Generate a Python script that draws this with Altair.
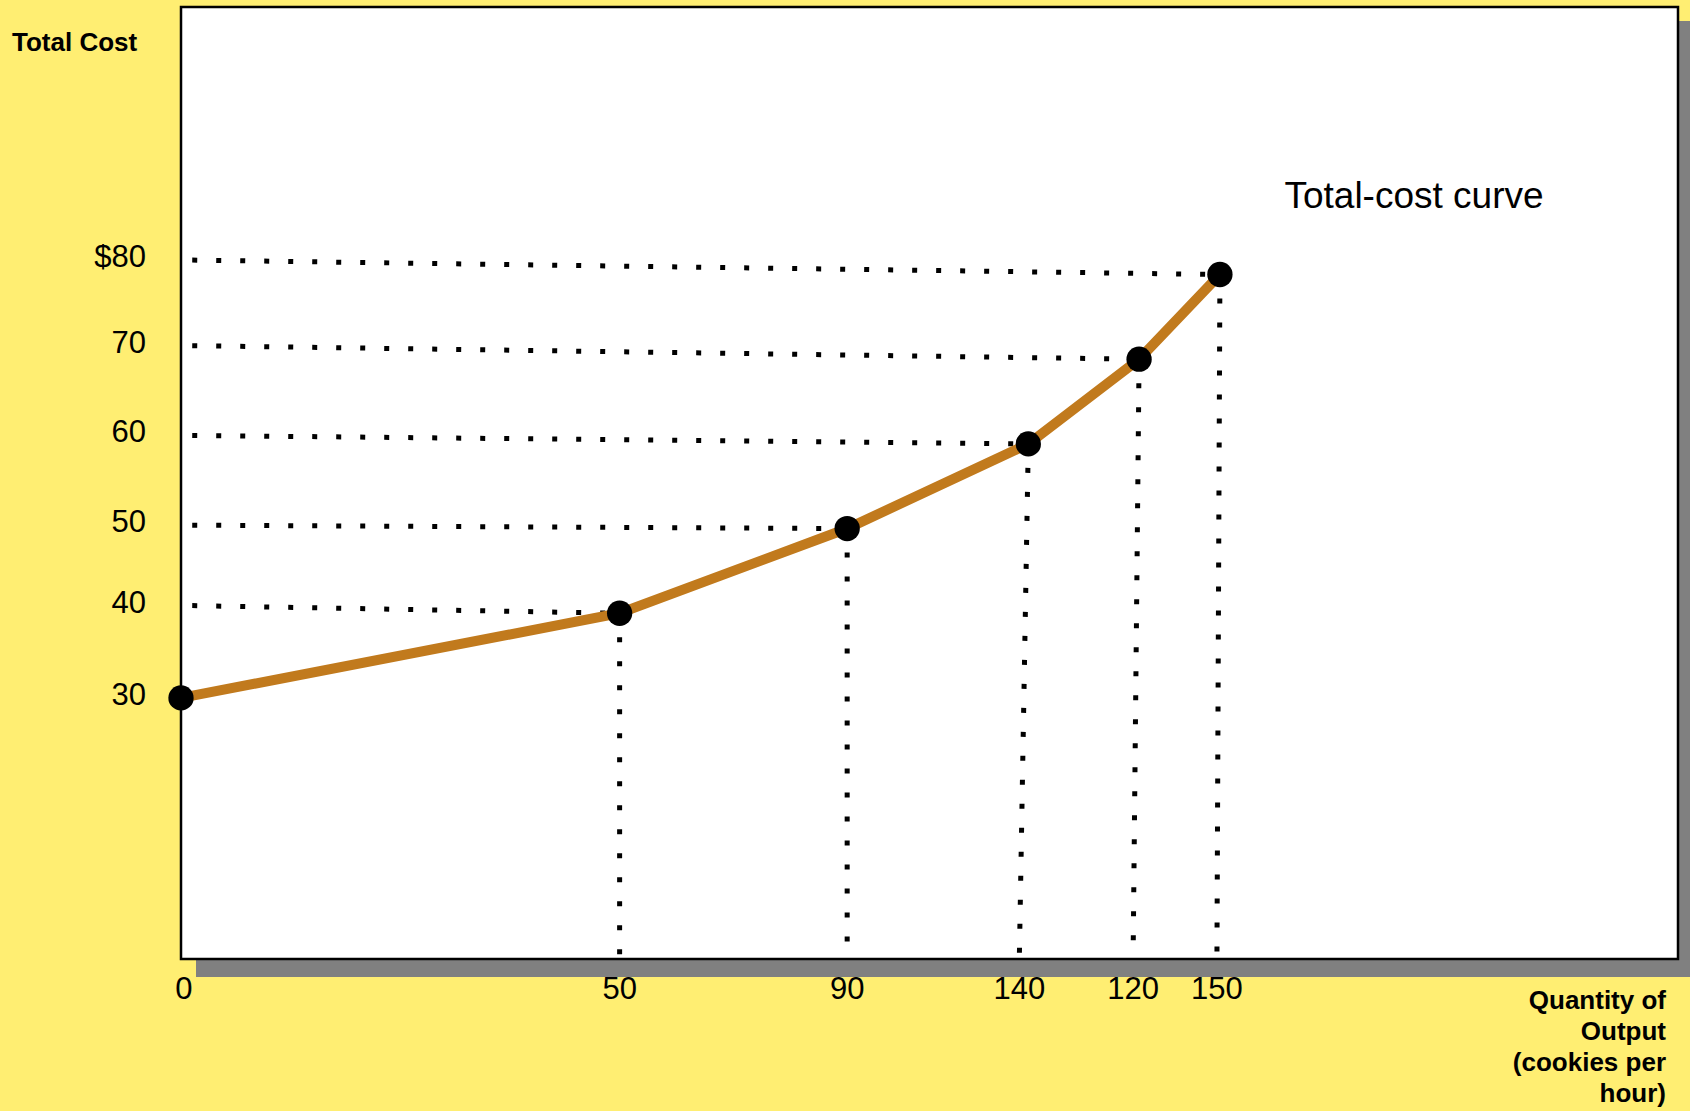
import altair as alt
import pandas as pd

# Cookie factory: output labels as printed on the horizontal axis, and total cost
output_labels = ["0", "50", "90", "140", "120", "150"]
total_cost = [30, 40, 50, 60, 70, 80]
cost_labels = ["30", "40", "50", "60", "70", "$80"]

# Hand-drawn axis: where each point and each output tick sit along the
# horizontal axis (0-100 axis units), and where each cost tick sits (in $)
point_pos = [0.0, 29.3, 44.5, 56.6, 64.0, 69.4]
tick_pos = [0.2, 29.3, 44.5, 56.0, 63.6, 69.2]
tick_cost = [30.0, 40.9, 50.4, 61.0, 71.6, 81.7]

df = pd.DataFrame({
    "output": output_labels,
    "cost": total_cost,
    "cost_label": cost_labels,
    "point_pos": point_pos,
    "tick_pos": tick_pos,
    "tick_cost": tick_cost,
})

W, H = 1497, 952
FONT = "Liberation Sans"
X_DOMAIN = [0, 100]
Y_DOMAIN = [-0.83, 111.59]
GUIDE_START = 0.75  # where the horizontal guides leave the cost axis (axis units)

xs = alt.Scale(domain=X_DOMAIN, nice=False, zero=False)
ys = alt.Scale(domain=Y_DOMAIN, nice=False, zero=False)

one = pd.DataFrame({"k": [0]})
base = alt.Chart(df)

# Plot panel with its drop shadow
shadow = alt.Chart(one).mark_rect(color="#808080").encode(
    x=alt.value(15), x2=alt.value(W + 25), y=alt.value(14), y2=alt.value(H + 18)
)
panel = alt.Chart(one).mark_rect(fill="white", stroke="black", strokeWidth=2.5).encode(
    x=alt.value(0), x2=alt.value(W), y=alt.value(0), y2=alt.value(H)
)

dotted = dict(color="black", strokeWidth=5, strokeDash=[5, 19])

guides = base.transform_filter("datum.cost > 30").transform_calculate(
    x_start=f"{GUIDE_START}", floor=f"{Y_DOMAIN[0]}"
)

# Horizontal guides from the cost axis to each point
h_guides = guides.mark_rule(**dotted).encode(
    x=alt.X("x_start:Q", scale=xs, axis=None),
    y=alt.Y("tick_cost:Q", scale=ys, axis=None),
    x2=alt.X2("point_pos:Q"),
    y2=alt.Y2("cost:Q"),
)

# Vertical guides from each point down to the output axis
v_guides = guides.mark_rule(**dotted).encode(
    x=alt.X("point_pos:Q", scale=xs, axis=None),
    y=alt.Y("cost:Q", scale=ys, axis=None),
    x2=alt.X2("tick_pos:Q"),
    y2=alt.Y2("floor:Q"),
)

curve = base.mark_line(color="#C17A1D", strokeWidth=10).encode(
    x=alt.X("point_pos:Q", scale=xs, axis=None),
    y=alt.Y("cost:Q", scale=ys, axis=None),
)

points = base.mark_circle(color="black", opacity=1, size=640).encode(
    x=alt.X("point_pos:Q", scale=xs, axis=None),
    y=alt.Y("cost:Q", scale=ys, axis=None),
)

# Tick labels
x_labels = base.mark_text(font=FONT, fontSize=31, baseline="middle", align="center", dy=31,
                          color="black").encode(
    x=alt.X("tick_pos:Q", scale=xs, axis=None),
    y=alt.value(H),
    text="output:N",
)
y_labels = base.mark_text(font=FONT, fontSize=31, baseline="middle", align="right", dx=-35, dy=-2,
                          color="black").encode(
    x=alt.value(0),
    y=alt.Y("tick_cost:Q", scale=ys, axis=None),
    text="cost_label:N",
)

# Titles and curve annotation
y_title = alt.Chart(one).mark_text(font=FONT, fontSize=26, fontWeight="bold", align="left",
                                   baseline="middle", color="black").encode(
    x=alt.value(-169), y=alt.value(36), text=alt.value("Total Cost")
)
x_title = alt.Chart(one).mark_text(font=FONT, fontSize=26, fontWeight="bold", align="right",
                                   baseline="alphabetic", lineHeight=31, color="black").encode(
    x=alt.value(1485), y=alt.value(1002),
    text=alt.value(["Quantity of", "Output", "(cookies per", "hour)"]),
)
curve_note = alt.Chart(one).mark_text(font=FONT, fontSize=37, align="center", baseline="middle",
                                      color="black").encode(
    x=alt.value(1233), y=alt.value(190), text=alt.value("Total-cost curve")
)

chart = alt.layer(
    shadow, panel, h_guides, v_guides, curve, points,
    x_labels, y_labels, y_title, x_title, curve_note,
).properties(
    width=W,
    height=H,
    padding={"left": 181, "top": 7, "right": 12, "bottom": 152},
    autosize="none",
    background="#FFEE72",
).configure_view(strokeWidth=0)

chart.save("out.html", embed_options={"renderer": "svg", "actions": False})
